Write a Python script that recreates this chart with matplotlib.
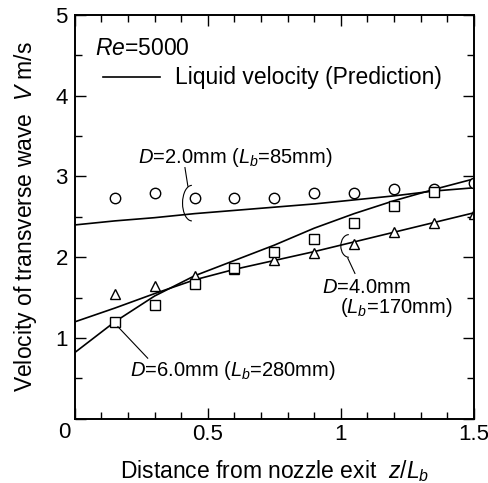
import matplotlib
matplotlib.use('Agg')
import matplotlib.pyplot as plt
from matplotlib.patches import Arc
from matplotlib.ticker import MultipleLocator

plt.rcParams['font.family'] = ['Liberation Sans', 'DejaVu Sans']
plt.rcParams['mathtext.fontset'] = 'custom'
plt.rcParams['mathtext.rm'] = 'Liberation Sans'
plt.rcParams['mathtext.it'] = 'Liberation Sans:italic'

# measured points
z = [0.15, 0.3, 0.45, 0.6, 0.75, 0.9, 1.05, 1.2, 1.35, 1.5]
v_d2 = [2.73, 2.79, 2.73, 2.73, 2.73, 2.79, 2.79, 2.85, 2.85, 2.92]
v_d4 = [1.55, 1.65, 1.77, 1.86, 1.96, 2.05, 2.16, 2.31, 2.43, 2.53]
z_d6 = [0.15, 0.3, 0.45, 0.6, 0.75, 0.9, 1.05, 1.2, 1.35]
v_d6 = [1.20, 1.41, 1.67, 1.87, 2.07, 2.22, 2.42, 2.63, 2.81]

# predicted liquid velocity
zp = [0, 0.15, 0.3, 0.45, 0.6, 0.75, 0.9, 1.05, 1.2, 1.35, 1.5]
p_d2 = [2.40, 2.45, 2.49, 2.54, 2.58, 2.62, 2.66, 2.71, 2.76, 2.82, 2.86]
p_d4 = [1.20, 1.37, 1.55, 1.72, 1.85, 1.96, 2.07, 2.19, 2.31, 2.43, 2.55]
p_d6 = [0.82, 1.20, 1.52, 1.77, 1.96, 2.15, 2.36, 2.54, 2.70, 2.84, 2.97]

xticks = [0, 0.5, 1, 1.5]
xlabels = ['', '0.5', '1', '1.5']
yticks = [0, 1, 2, 3, 4, 5]
ylabels = ['', '1', '2', '3', '4', '5']

fig = plt.figure(figsize=(4.89, 4.83), dpi=100)
ax = fig.add_axes([0.153, 0.133, 0.816, 0.836])

for p in [p_d2, p_d4, p_d6]:
    ax.plot(zp, p, color='black', lw=1.2)

mk = dict(ls='none', mfc='white', mec='black', mew=1.0, ms=7.5)
ax.plot(z, v_d2, marker='o', **mk)
ax.plot(z, v_d4, marker='^', **mk)
ax.plot(z_d6, v_d6, marker='s', **mk)

ax.set_xlim(0, 1.5)
ax.set_ylim(0, 5)
ax.set_xticks(xticks)
ax.set_xticklabels(xlabels)
ax.set_yticks(yticks)
ax.set_yticklabels(ylabels)
ax.xaxis.set_minor_locator(MultipleLocator(0.1))
ax.yaxis.set_minor_locator(MultipleLocator(0.5))
ax.tick_params(which='both', direction='in', top=True, right=True, labelsize=16, width=1)
ax.tick_params(which='major', length=8)
ax.tick_params(axis='x', which='major', pad=4)
ax.tick_params(axis='y', which='major', pad=5)
ax.tick_params(which='minor', length=5)
for s in ax.spines.values():
    s.set_linewidth(1.4)

# shared origin label
ax.text(-0.038, -0.17, '0', fontsize=16, ha='center', va='center', clip_on=False)

ax.set_xlabel('Distance from nozzle exit  $z$/$L_b$', fontsize=16.5, labelpad=9)
ax.set_ylabel('Velocity of transverse wave  $V$ m/s', fontsize=16.5, labelpad=12)

ax.text(0.075, 4.59, '$Re$=5000', fontsize=16.5, va='center')
ax.plot([0.105, 0.32], [4.23, 4.23], color='black', lw=1.2)
ax.text(0.376, 4.23, 'Liquid velocity (Prediction)', fontsize=16.5, va='center')

ax.text(0.237, 3.23, '$D$=2.0mm ($L_b$=85mm)', fontsize=14.5, va='center')
ax.plot([0.414, 0.425], [3.11, 2.88], color='black', lw=0.8)
ax.add_patch(Arc((0.44, 2.67), 0.07, 0.44, theta1=90, theta2=270, color='black', lw=0.8))

ax.text(0.93, 1.63, '$D$=4.0mm', fontsize=14.5, va='center')
ax.text(0.996, 1.38, '($L_b$=170mm)', fontsize=14.5, va='center')
ax.plot([1.026, 1.053], [1.99, 1.80], color='black', lw=0.8)
ax.add_patch(Arc((1.03, 2.14), 0.06, 0.28, theta1=90, theta2=270, color='black', lw=0.8))

ax.text(0.207, 0.60, '$D$=6.0mm ($L_b$=280mm)', fontsize=14.5, va='center')
ax.plot([0.162, 0.274], [1.14, 0.75], color='black', lw=0.8)

fig.savefig('out.png', dpi=100)
